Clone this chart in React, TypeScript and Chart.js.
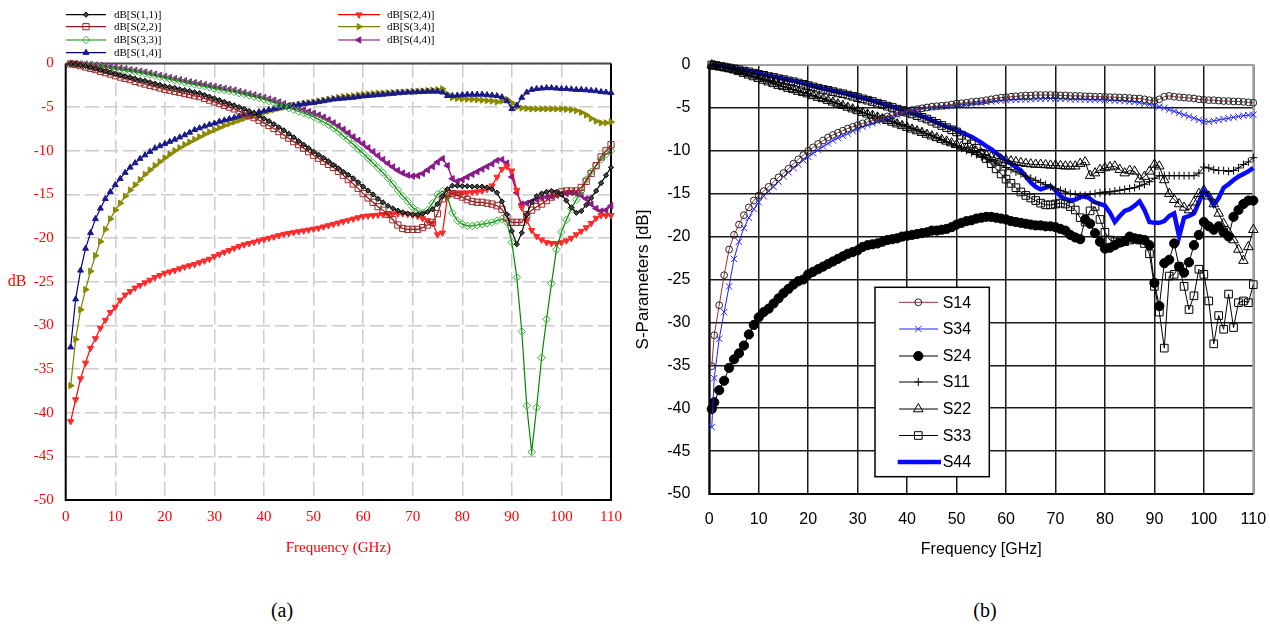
import React, { useEffect, useRef } from 'react';
import { Chart, registerables } from 'chart.js';

Chart.register(...registerables);

// ---------- (a) simulated data ----------
const freqA = [1,2,3,4,5,6,7,8,9,10,11,12,13,14,15,16,17,18,19,20,21,22,23,24,25,26,27,28,29,30,31,32,33,34,35,36,37,38,39,40,41,42,43,44,45,46,47,48,49,50,51,52,53,54,55,56,57,58,59,60,61,62,63,64,65,66,67,68,69,70,71,72,73,74,75,76,77,78,79,80,81,82,83,84,85,86,87,88,89,90,91,92,93,94,95,96,97,98,99,100,101,102,103,104,105,106,107,108,109,110];

const aS11 = [-0.05,-0.1,-0.2,-0.3,-0.45,-0.6,-0.75,-0.9,-1.05,-1.2,
-1.35,-1.5,-1.6,-1.75,-1.9,-2.0,-2.15,-2.3,-2.45,-2.6,
-2.7,-2.8,-2.95,-3.05,-3.15,-3.3,-3.4,-3.6,-3.8,-4.0,
-4.2,-4.4,-4.6,-4.8,-5.0,-5.2,-5.45,-5.7,-6.0,-6.3,
-6.6,-6.95,-7.3,-7.65,-8.05,-8.45,-8.9,-9.3,-9.7,-10.1,
-10.45,-10.8,-11.2,-11.6,-12.0,-12.4,-12.75,-13.15,-13.6,-14.1,
-14.55,-15.0,-15.5,-15.9,-16.3,-16.6,-16.85,-17.05,-17.2,-17.3,
-17.3,-17.2,-17.0,-16.7,-16.1,-15.2,-14.4,-14.0,-14.0,-14.05,
-14.05,-14.1,-14.1,-14.1,-14.2,-14.4,-14.8,-15.8,-17.3,-19.2,
-20.7,-19.4,-17.3,-15.9,-15.2,-14.9,-14.7,-14.6,-14.7,-15.0,
-15.7,-16.5,-17.1,-16.9,-16.2,-15.4,-14.6,-13.7,-12.8,-11.9];

const aS22 = [-0.05,-0.12,-0.25,-0.4,-0.55,-0.7,-0.9,-1.05,-1.2,-1.4,
-1.55,-1.7,-1.85,-2.05,-2.2,-2.35,-2.5,-2.65,-2.8,-2.95,
-3.05,-3.2,-3.3,-3.45,-3.55,-3.7,-3.8,-4.0,-4.2,-4.4,
-4.6,-4.8,-5.0,-5.2,-5.45,-5.7,-5.95,-6.2,-6.5,-6.8,
-7.1,-7.45,-7.8,-8.2,-8.55,-8.95,-9.3,-9.7,-10.1,-10.5,
-10.85,-11.2,-11.55,-11.9,-12.35,-12.8,-13.3,-13.8,-14.3,-14.9,
-15.4,-15.9,-16.4,-16.8,-17.3,-17.9,-18.5,-18.9,-19.0,-19.0,
-19.0,-18.8,-18.5,-18.2,-17.2,-15.5,-14.8,-14.9,-15.1,-15.3,
-15.6,-15.8,-15.9,-15.9,-16.0,-16.1,-16.3,-16.7,-17.6,-18.2,
-18.2,-18.2,-17.3,-16.8,-16.4,-16.1,-15.7,-15.3,-14.9,-14.7,
-14.6,-14.6,-14.6,-14.2,-13.5,-12.6,-11.7,-10.7,-10.0,-9.3];

const aS33 = [0,-0.03,-0.07,-0.12,-0.2,-0.28,-0.35,-0.43,-0.52,-0.6,
-0.7,-0.78,-0.87,-0.95,-1.05,-1.15,-1.27,-1.4,-1.52,-1.65,
-1.77,-1.9,-2.0,-2.15,-2.28,-2.4,-2.5,-2.6,-2.72,-2.85,
-2.95,-3.05,-3.15,-3.25,-3.4,-3.5,-3.65,-3.8,-3.95,-4.1,
-4.3,-4.5,-4.7,-4.9,-5.1,-5.3,-5.5,-5.7,-5.9,-6.1,
-6.4,-6.7,-7.0,-7.4,-7.8,-8.3,-8.75,-9.25,-9.8,-10.3,
-10.85,-11.4,-11.95,-12.5,-13.15,-13.8,-14.5,-15.2,-15.8,-16.5,
-16.9,-17.1,-16.8,-16.0,-15.0,-14.6,-15.3,-17.1,-18.0,-18.4,
-18.6,-18.6,-18.5,-18.4,-18.3,-18.2,-18.0,-17.8,-18.2,-20.5,
-24.5,-30.7,-39.2,-44.5,-39.4,-33.7,-29.3,-25.2,-21.3,-19.3,
-17.9,-16.6,-15.6,-14.6,-13.3,-12.4,-11.7,-11.0,-10.4,-10.0];

const aS14 = [-32.5,-27.0,-23.7,-21.2,-19.4,-17.8,-16.6,-15.5,-14.7,-13.9,
-13.2,-12.5,-11.9,-11.4,-10.9,-10.5,-10.1,-9.7,-9.45,-9.2,
-8.95,-8.7,-8.45,-8.2,-7.9,-7.6,-7.4,-7.2,-7.0,-6.85,
-6.65,-6.5,-6.35,-6.2,-6.05,-5.9,-5.8,-5.7,-5.55,-5.45,
-5.3,-5.2,-5.1,-5.0,-4.9,-4.8,-4.7,-4.6,-4.55,-4.5,
-4.4,-4.3,-4.2,-4.1,-4.05,-4.0,-3.95,-3.9,-3.82,-3.75,
-3.7,-3.65,-3.6,-3.55,-3.5,-3.45,-3.38,-3.33,-3.3,-3.28,
-3.25,-3.23,-3.2,-3.2,-3.2,-3.3,-3.7,-3.7,-3.65,-3.6,
-3.55,-3.55,-3.55,-3.55,-3.6,-3.65,-3.7,-3.85,-4.3,-5.2,
-4.8,-3.9,-3.3,-3.0,-2.9,-2.85,-2.8,-2.8,-2.85,-2.9,
-2.9,-2.95,-3.0,-3.0,-3.05,-3.1,-3.15,-3.25,-3.3,-3.35];

const aS24 = [-41.0,-38.5,-36.1,-34.3,-32.6,-31.5,-30.3,-29.4,-28.5,-27.9,
-27.1,-26.5,-26.1,-25.7,-25.4,-25.1,-24.8,-24.5,-24.25,-24.0,
-23.85,-23.7,-23.5,-23.3,-23.15,-23.0,-22.8,-22.6,-22.4,-22.1,
-21.85,-21.6,-21.4,-21.15,-20.95,-20.75,-20.6,-20.45,-20.3,-20.15,
-20.0,-19.85,-19.7,-19.55,-19.45,-19.35,-19.25,-19.15,-19.05,-18.95,
-18.85,-18.7,-18.55,-18.4,-18.25,-18.1,-17.95,-17.8,-17.65,-17.5,
-17.45,-17.4,-17.35,-17.3,-17.25,-17.2,-17.2,-17.2,-17.25,-17.35,
-17.5,-17.75,-18.0,-18.3,-19.6,-19.4,-15.3,-14.8,-14.8,-14.8,
-14.8,-14.75,-14.7,-14.6,-14.4,-14.0,-13.0,-12.1,-11.8,-12.3,
-14.5,-16.5,-18.0,-19.1,-19.8,-20.2,-20.5,-20.6,-20.6,-20.5,
-20.3,-20.0,-19.6,-19.2,-18.8,-18.3,-17.7,-17.4,-17.4,-17.4];

const aS34 = [-36.9,-31.6,-28.2,-25.9,-23.8,-22.0,-20.4,-19.0,-17.8,-16.8,
-16.0,-15.2,-14.5,-13.9,-13.3,-12.7,-12.2,-11.7,-11.25,-10.8,
-10.4,-10.0,-9.65,-9.3,-9.0,-8.7,-8.4,-8.1,-7.85,-7.6,
-7.35,-7.1,-6.9,-6.7,-6.5,-6.3,-6.1,-5.9,-5.75,-5.6,
-5.45,-5.3,-5.15,-5.0,-4.9,-4.8,-4.7,-4.6,-4.5,-4.4,
-4.3,-4.2,-4.1,-4.0,-3.9,-3.8,-3.75,-3.7,-3.6,-3.55,
-3.5,-3.45,-3.4,-3.38,-3.35,-3.32,-3.3,-3.28,-3.25,-3.22,
-3.2,-3.15,-3.1,-3.05,-3.0,-2.9,-3.5,-3.9,-4.0,-4.05,
-4.1,-4.1,-4.15,-4.2,-4.25,-4.3,-4.4,-4.3,-4.1,-4.5,
-5.0,-5.1,-5.15,-5.2,-5.2,-5.2,-5.2,-5.2,-5.2,-5.2,
-5.25,-5.3,-5.4,-5.6,-5.9,-6.3,-6.6,-6.8,-6.8,-6.7];

const aS44 = [0,0,-0.05,-0.08,-0.12,-0.17,-0.22,-0.28,-0.36,-0.44,
-0.52,-0.6,-0.7,-0.78,-0.88,-0.98,-1.1,-1.22,-1.35,-1.48,
-1.6,-1.72,-1.85,-1.97,-2.1,-2.2,-2.3,-2.42,-2.53,-2.64,
-2.75,-2.85,-2.95,-3.05,-3.2,-3.33,-3.47,-3.6,-3.75,-3.9,
-4.05,-4.2,-4.4,-4.6,-4.8,-5.0,-5.1,-5.3,-5.5,-5.7,
-5.9,-6.15,-6.45,-6.8,-7.15,-7.55,-7.95,-8.4,-8.8,-9.2,
-9.65,-10.1,-10.55,-11.0,-11.45,-11.85,-12.25,-12.55,-12.8,-12.9,
-12.85,-12.6,-12.2,-11.8,-11.3,-10.9,-11.7,-13.2,-13.5,-13.3,
-13.0,-12.7,-12.4,-12.1,-11.8,-11.5,-11.1,-11.0,-11.4,-13.0,
-14.8,-16.1,-16.0,-15.8,-15.6,-15.4,-15.3,-15.2,-15.1,-15.0,
-14.9,-14.8,-14.9,-15.1,-15.5,-16.1,-16.6,-16.9,-16.8,-16.3];

// ---------- (b) measured data ----------
const freqB = [0.5,1,2,3,4,5,6,7,8,9,10,11,12,13,14,15,16,17,18,19,20,21,22,23,24,25,26,27,28,29,30,31,32,33,34,35,36,37,38,39,40,41,42,43,44,45,46,47,48,49,50,51,52,53,54,55,56,57,58,59,60,61,62,63,64,65,66,67,68,69,70,71,72,73,74,75,76,77,78,79,80,81,82,83,84,85,86,87,88,89,90,91,92,93,94,95,96,97,98,99,100,101,102,103,104,105,106,107,108,109,110];

const bS14 = [-35.1,
-31.5,-28.0,-24.5,-21.5,-19.8,-18.6,-17.5,-16.6,-15.8,-15.2,
-14.7,-14.2,-13.6,-13.1,-12.6,-12.1,-11.5,-11.0,-10.5,-10.0,
-9.6,-9.2,-8.8,-8.45,-8.15,-7.9,-7.65,-7.4,-7.2,-7.0,
-6.8,-6.65,-6.5,-6.35,-6.2,-6.0,-5.85,-5.65,-5.5,-5.35,
-5.25,-5.15,-5.05,-4.95,-4.85,-4.8,-4.75,-4.7,-4.6,-4.5,
-4.45,-4.4,-4.3,-4.25,-4.2,-4.1,-4.0,-3.9,-3.8,-3.75,
-3.7,-3.65,-3.6,-3.55,-3.55,-3.5,-3.5,-3.5,-3.5,-3.5,
-3.55,-3.55,-3.6,-3.6,-3.6,-3.65,-3.65,-3.7,-3.7,-3.7,
-3.75,-3.75,-3.8,-3.8,-3.85,-3.9,-3.9,-4.0,-4.1,-4.2,
-4.0,-3.7,-3.6,-3.7,-3.75,-3.8,-3.85,-3.9,-4.0,-4.05,
-4.1,-4.1,-4.15,-4.2,-4.2,-4.25,-4.25,-4.3,-4.35,-4.4];

const bS34 = [-42.2,
-36.5,-31.9,-28.8,-25.8,-22.6,-20.6,-19.0,-17.8,-16.8,-16.0,
-15.3,-14.7,-14.2,-13.6,-13.0,-12.5,-12.0,-11.6,-11.1,-10.7,
-10.3,-9.9,-9.5,-9.15,-8.8,-8.5,-8.25,-8.0,-7.7,-7.45,
-7.2,-7.0,-6.8,-6.6,-6.4,-6.2,-6.0,-5.8,-5.6,-5.45,
-5.3,-5.2,-5.1,-5.0,-4.95,-4.9,-4.85,-4.8,-4.75,-4.7,
-4.6,-4.55,-4.5,-4.45,-4.4,-4.3,-4.25,-4.2,-4.15,-4.1,
-4.05,-4.05,-4.0,-4.0,-4.0,-3.95,-3.95,-3.9,-3.9,-3.9,
-3.95,-3.95,-4.0,-4.0,-4.0,-4.0,-4.05,-4.05,-4.05,-4.1,
-4.1,-4.15,-4.15,-4.2,-4.25,-4.3,-4.4,-4.5,-4.6,-4.7,
-4.85,-5.0,-5.2,-5.4,-5.6,-5.8,-6.0,-6.2,-6.4,-6.6,
-6.6,-6.5,-6.4,-6.3,-6.2,-6.1,-6.0,-5.9,-5.85,-5.8];

const bS24 = [-40.1,
-39.3,-37.9,-36.8,-35.3,-34.3,-33.6,-32.7,-31.4,-30.3,-29.4,
-28.8,-28.4,-27.8,-27.2,-26.6,-26.1,-25.6,-25.2,-25.0,-24.4,
-24.1,-23.8,-23.5,-23.2,-22.9,-22.6,-22.3,-22.0,-21.8,-21.6,
-21.2,-21.0,-20.9,-20.8,-20.6,-20.4,-20.3,-20.2,-20.0,-19.9,
-19.8,-19.7,-19.6,-19.5,-19.3,-19.3,-19.2,-19.1,-18.9,-18.6,
-18.4,-18.2,-18.1,-17.9,-17.8,-17.7,-17.7,-17.8,-17.9,-18.0,
-18.2,-18.3,-18.4,-18.5,-18.6,-18.7,-18.7,-18.8,-18.8,-18.9,
-19.1,-19.3,-19.8,-20.1,-20.3,-18.0,-18.5,-19.6,-20.6,-21.4,
-21.3,-21.0,-20.7,-20.5,-20.0,-20.2,-20.3,-20.4,-21.0,-25.4,
-28.1,-23.1,-22.7,-20.8,-23.5,-24.2,-23.0,-21.0,-19.8,-18.3,
-18.8,-19.2,-18.8,-19.5,-20.0,-17.7,-16.9,-16.2,-15.8,-15.8];

const bS11 = [0,
-0.1,-0.2,-0.3,-0.45,-0.6,-0.75,-0.95,-1.15,-1.35,-1.55,
-1.75,-1.95,-2.1,-2.3,-2.5,-2.65,-2.85,-3.0,-3.2,-3.35,
-3.55,-3.75,-3.9,-4.1,-4.3,-4.5,-4.7,-4.9,-5.1,-5.3,
-5.5,-5.7,-5.85,-6.0,-6.2,-6.4,-6.55,-6.75,-6.95,-7.15,
-7.35,-7.55,-7.75,-8.0,-8.2,-8.45,-8.7,-8.95,-9.2,-9.45,
-9.7,-9.95,-10.2,-10.45,-10.7,-10.95,-11.2,-11.45,-11.7,-11.95,
-12.2,-12.45,-12.7,-12.95,-13.2,-13.45,-13.7,-13.95,-14.2,-14.4,
-14.6,-14.8,-15.0,-15.1,-15.2,-15.2,-15.1,-15.0,-14.9,-14.8,
-14.8,-14.7,-14.6,-14.5,-14.4,-14.3,-14.1,-13.9,-13.6,-13.2,
-12.9,-12.9,-12.9,-12.9,-12.9,-12.9,-12.9,-12.9,-12.6,-11.9,
-12.0,-12.2,-12.3,-12.3,-12.4,-12.3,-12.0,-11.6,-11.3,-10.8];

const bS22 = [0,
-0.1,-0.2,-0.3,-0.45,-0.6,-0.8,-1.0,-1.2,-1.4,-1.6,
-1.8,-2.0,-2.2,-2.4,-2.55,-2.75,-2.9,-3.1,-3.25,-3.4,
-3.6,-3.8,-3.95,-4.15,-4.35,-4.55,-4.75,-4.95,-5.15,-5.35,
-5.55,-5.75,-5.9,-6.1,-6.3,-6.5,-6.7,-6.9,-7.1,-7.3,
-7.5,-7.7,-7.9,-8.1,-8.3,-8.5,-8.7,-8.9,-9.1,-9.3,
-9.5,-9.7,-9.9,-10.1,-10.3,-10.5,-10.7,-10.85,-11.0,-11.1,
-11.2,-11.3,-11.4,-11.5,-11.55,-11.6,-11.6,-11.65,-11.7,-11.7,
-11.75,-11.8,-11.8,-11.8,-11.5,-11.3,-12.9,-12.6,-12.2,-12.0,
-11.9,-11.8,-12.2,-12.6,-12.3,-12.4,-13.3,-13.0,-12.4,-11.6,
-11.8,-13.4,-15.0,-15.7,-16.2,-16.6,-16.9,-16.0,-15.0,-14.6,
-15.3,-16.2,-17.3,-18.5,-19.5,-20.4,-21.5,-22.8,-21.2,-19.2];

const bS33 = [0,
-0.05,-0.15,-0.25,-0.35,-0.45,-0.55,-0.7,-0.8,-0.95,-1.1,
-1.2,-1.35,-1.45,-1.6,-1.7,-1.85,-1.95,-2.1,-2.25,-2.4,
-2.55,-2.7,-2.85,-2.95,-3.1,-3.25,-3.35,-3.5,-3.65,-3.8,
-3.95,-4.1,-4.25,-4.45,-4.6,-4.8,-4.95,-5.15,-5.3,-5.5,
-5.7,-5.9,-6.1,-6.3,-6.55,-6.8,-7.05,-7.3,-7.55,-7.8,
-8.2,-8.7,-9.2,-9.7,-10.3,-10.9,-11.5,-12.1,-12.7,-13.3,
-13.8,-14.3,-14.8,-15.2,-15.5,-15.8,-16.1,-16.3,-16.3,-16.2,
-16.1,-16.2,-16.5,-16.9,-17.8,-18.3,-17.0,-16.5,-18.0,-19.5,
-20.4,-20.6,-20.7,-20.6,-20.4,-20.3,-20.4,-20.8,-22.0,-25.8,
-28.8,-33.0,-24.6,-24.4,-23.5,-25.8,-28.5,-26.9,-23.8,-24.4,
-27.5,-32.5,-29.2,-30.8,-26.7,-30.6,-27.7,-27.5,-27.7,-25.6];

const bS44 = [0,
-0.05,-0.1,-0.2,-0.3,-0.4,-0.5,-0.6,-0.7,-0.85,-1.0,
-1.1,-1.25,-1.35,-1.5,-1.6,-1.75,-1.85,-2.0,-2.15,-2.3,
-2.45,-2.6,-2.75,-2.85,-3.0,-3.15,-3.25,-3.4,-3.55,-3.7,
-3.85,-4.0,-4.15,-4.35,-4.5,-4.7,-4.85,-5.05,-5.2,-5.4,
-5.6,-5.8,-6.0,-6.2,-6.45,-6.7,-6.95,-7.2,-7.4,-7.6,
-7.85,-8.1,-8.35,-8.7,-9.05,-9.45,-9.8,-10.25,-10.7,-11.1,
-11.5,-11.9,-12.3,-13.0,-13.7,-14.2,-14.5,-14.3,-14.1,-14.6,
-15.3,-15.6,-15.8,-15.7,-15.4,-15.3,-15.6,-16.0,-16.2,-16.4,
-17.2,-18.3,-17.6,-17.0,-16.8,-16.4,-15.9,-16.9,-18.3,-18.4,
-18.4,-18.2,-17.6,-17.3,-20.0,-17.8,-17.6,-17.3,-16.0,-14.6,
-15.3,-16.3,-15.5,-14.3,-13.9,-13.4,-13.0,-12.7,-12.4,-12.0];

// ---------- helpers ----------
type Mk = { style: string; r: number; rot?: number; fill: string; stroke: string };

function drawMarker(ctx: CanvasRenderingContext2D, m: Mk, x: number, y: number) {
  const r = m.r;
  ctx.save();
  ctx.beginPath();
  ctx.lineWidth = 1;
  ctx.strokeStyle = m.stroke;
  ctx.fillStyle = m.fill;
  if (m.style === 'circle') {
    ctx.arc(x, y, r, 0, Math.PI * 2);
  } else if (m.style === 'rect') {
    const s = r * Math.SQRT1_2;
    ctx.rect(x - s, y - s, 2 * s, 2 * s);
  } else if (m.style === 'rectRot') {
    ctx.moveTo(x, y - r); ctx.lineTo(x + r, y); ctx.lineTo(x, y + r); ctx.lineTo(x - r, y); ctx.closePath();
  } else if (m.style === 'triangle') {
    let a = ((m.rot || 0) * Math.PI) / 180;
    ctx.moveTo(x + Math.sin(a) * r, y - Math.cos(a) * r);
    a += (2 * Math.PI) / 3;
    ctx.lineTo(x + Math.sin(a) * r, y - Math.cos(a) * r);
    a += (2 * Math.PI) / 3;
    ctx.lineTo(x + Math.sin(a) * r, y - Math.cos(a) * r);
    ctx.closePath();
  } else if (m.style === 'cross') {
    ctx.moveTo(x - r, y); ctx.lineTo(x + r, y); ctx.moveTo(x, y - r); ctx.lineTo(x, y + r);
  } else if (m.style === 'crossRot') {
    const s = r * Math.SQRT1_2;
    ctx.moveTo(x - s, y - s); ctx.lineTo(x + s, y + s); ctx.moveTo(x - s, y + s); ctx.lineTo(x + s, y - s);
  }
  if (m.fill !== 'none' && m.style !== 'cross' && m.style !== 'crossRot') ctx.fill();
  ctx.stroke();
  ctx.restore();
}

type Series = { label: string; vals: number[]; color: string; width: number; mk: Mk | null; order?: number };

const seriesA: Series[] = [
  { label: 'dB[S(1,1)]', vals: aS11, color: '#000000', width: 1.2, mk: { style: 'rectRot', r: 2.6, fill: '#444444', stroke: '#000000' } },
  { label: 'dB[S(2,2)]', vals: aS22, color: '#8c1a1a', width: 1.2, mk: { style: 'rect', r: 4.4, fill: 'none', stroke: '#9a2a2a' } },
  { label: 'dB[S(3,3)]', vals: aS33, color: '#008a00', width: 1.2, mk: { style: 'rectRot', r: 3.8, fill: 'none', stroke: '#3cb43c' } },
  { label: 'dB[S(1,4)]', vals: aS14, color: '#000080', width: 1.2, mk: { style: 'triangle', r: 3.4, rot: 0, fill: '#1a1a8c', stroke: '#1a1a8c' } },
  { label: 'dB[S(2,4)]', vals: aS24, color: '#ff0000', width: 1.2, mk: { style: 'triangle', r: 3.6, rot: 180, fill: '#ff2a2a', stroke: '#ff2a2a' } },
  { label: 'dB[S(3,4)]', vals: aS34, color: '#808000', width: 1.2, mk: { style: 'triangle', r: 3.6, rot: 90, fill: '#8a8a00', stroke: '#8a8a00' } },
  { label: 'dB[S(4,4)]', vals: aS44, color: '#800080', width: 1.2, mk: { style: 'triangle', r: 3.6, rot: 270, fill: '#8a1a8a', stroke: '#8a1a8a' } },
];

const seriesB: Series[] = [
  { label: 'S14', vals: bS14, color: '#a03030', width: 1, mk: { style: 'circle', r: 3.4, fill: 'none', stroke: '#222222' } },
  { label: 'S34', vals: bS34, color: '#2020ff', width: 1, mk: { style: 'crossRot', r: 4.5, fill: 'none', stroke: '#2a2aff' } },
  { label: 'S24', vals: bS24, color: '#000000', width: 1, mk: { style: 'circle', r: 4.6, fill: '#000000', stroke: '#000000' } },
  { label: 'S11', vals: bS11, color: '#000000', width: 1, mk: { style: 'cross', r: 4, fill: 'none', stroke: '#000000' } },
  { label: 'S22', vals: bS22, color: '#000000', width: 1, mk: { style: 'triangle', r: 5.5, rot: 0, fill: 'none', stroke: '#000000' } },
  { label: 'S33', vals: bS33, color: '#000000', width: 1, mk: { style: 'rect', r: 5.4, fill: 'none', stroke: '#000000' } },
  { label: 'S44', vals: bS44, color: '#0a0aff', width: 4.5, mk: null, order: 10 },
];

function toDatasets(freq: number[], list: Series[]) {
  return list.map((s) => ({
    label: s.label,
    data: freq.map((f, i) => ({ x: f, y: s.vals[i] })),
    borderColor: s.color,
    borderWidth: s.width,
    pointStyle: s.mk ? (s.mk.style as any) : false,
    pointRadius: s.mk ? s.mk.r : 0,
    pointRotation: s.mk ? s.mk.rot || 0 : 0,
    pointBackgroundColor: s.mk ? (s.mk.fill === 'none' ? 'rgba(0,0,0,0)' : s.mk.fill) : 'rgba(0,0,0,0)',
    pointBorderColor: s.mk ? s.mk.stroke : s.color,
    pointBorderWidth: 1,
    tension: 0,
    fill: false,
    clip: false as any,
    order: s.order || 0,
  }));
}

const SERIF = "'Liberation Serif', 'Times New Roman', serif";
const SANS = "'Liberation Sans', Arial, sans-serif";

const W_A = 625, H_A = 570;
const W_B = 645, H_B = 570;

const plotA = { left: 65.7, right: 611, top: 63.5, bottom: 500 };
const plotB = { left: 84.3, right: 628.3, top: 65, bottom: 494 };

const decorA = {
  id: 'decorA',
  beforeDatasetsDraw(chart: any) {
    const { ctx, chartArea: a } = chart;
    ctx.save();
    ctx.lineWidth = 2;
    ctx.strokeStyle = '#4a4a4a';
    ctx.beginPath(); ctx.moveTo(a.left, a.top); ctx.lineTo(a.right, a.top); ctx.stroke();
    ctx.strokeStyle = '#000000';
    ctx.beginPath(); ctx.moveTo(a.right, a.top); ctx.lineTo(a.right, a.bottom); ctx.lineTo(a.left, a.bottom); ctx.lineTo(a.left, a.top); ctx.stroke();
    ctx.restore();
  },
  afterDraw(chart: any) {
    const ctx: CanvasRenderingContext2D = chart.ctx;
    ctx.save();
    ctx.fillStyle = '#ff0000';
    ctx.font = `16px ${SERIF}`;
    ctx.textAlign = 'center';
    ctx.textBaseline = 'middle';
    ctx.fillText('dB', 17, 282);
    const rows = [14.7, 26.7, 40, 52.7];
    ctx.font = `11px ${SERIF}`;
    ctx.textAlign = 'left';
    seriesA.forEach((s, i) => {
      const col = i < 4 ? 0 : 1;
      const y = rows[col === 0 ? i : i - 4];
      const x0 = col === 0 ? 66 : 338;
      const x1 = col === 0 ? 106 : 380;
      const xm = col === 0 ? 86 : 359;
      const xt = col === 0 ? 114 : 387;
      ctx.strokeStyle = s.color;
      ctx.lineWidth = 1.2;
      ctx.beginPath(); ctx.moveTo(x0, y); ctx.lineTo(x1, y); ctx.stroke();
      if (s.mk) drawMarker(ctx, s.mk, xm, y);
      ctx.fillStyle = '#000000';
      ctx.fillText(s.label, xt, y + 0.5);
    });
    ctx.restore();
  },
};

const decorB = {
  id: 'decorB',
  beforeDatasetsDraw(chart: any) {
    const { ctx, chartArea: a } = chart;
    ctx.save();
    ctx.lineWidth = 2;
    ctx.strokeStyle = '#a0a0a0';
    ctx.beginPath(); ctx.moveTo(a.left, a.top); ctx.lineTo(a.right, a.top); ctx.lineTo(a.right, a.bottom); ctx.stroke();
    ctx.strokeStyle = '#000000';
    ctx.beginPath(); ctx.moveTo(a.right, a.bottom); ctx.lineTo(a.left, a.bottom); ctx.lineTo(a.left, a.top); ctx.stroke();
    ctx.restore();
  },
  afterDraw(chart: any) {
    const ctx: CanvasRenderingContext2D = chart.ctx;
    ctx.save();
    const bx = 250, by = 287.3, bw = 114.3, bh = 189.4;
    ctx.fillStyle = '#ffffff';
    ctx.fillRect(bx, by, bw, bh);
    ctx.strokeStyle = '#000000';
    ctx.lineWidth = 1.5;
    ctx.strokeRect(bx, by, bw, bh);
    const rows = [302.3, 329, 356, 382, 409, 435.5, 462];
    ctx.font = `16px ${SANS}`;
    ctx.textAlign = 'left';
    ctx.textBaseline = 'middle';
    seriesB.forEach((s, i) => {
      const y = rows[i];
      ctx.strokeStyle = s.color;
      ctx.lineWidth = s.width;
      ctx.beginPath();
      if (s.mk) { ctx.moveTo(274, y); ctx.lineTo(313, y); } else { ctx.moveTo(272.7, y); ctx.lineTo(316, y); }
      ctx.stroke();
      if (s.mk) drawMarker(ctx, s.mk, 293.3, y);
      ctx.fillStyle = '#000000';
      ctx.fillText(s.label, 317.7, y + 1);
    });
    ctx.restore();
  },
};

function ChartA() {
  const ref = useRef<HTMLCanvasElement | null>(null);
  useEffect(() => {
    if (!ref.current) return;
    const chart = new Chart(ref.current, {
      type: 'line',
      data: { datasets: toDatasets(freqA, seriesA) as any },
      options: {
        animation: false,
        responsive: false,
        events: [],
        layout: { padding: { left: 0, top: plotA.top, right: W_A - plotA.right, bottom: 0 } },
        plugins: { legend: { display: false }, tooltip: { enabled: false } },
        scales: {
          x: {
            type: 'linear', min: 0, max: 110,
            ticks: { stepSize: 10, color: '#ff0000', font: { family: SERIF, size: 15 }, padding: 8, maxRotation: 0, autoSkip: false },
            grid: { color: '#cccccc', lineWidth: 1.5, drawTicks: false },
            border: { display: false, dash: [14, 5] },
            title: { display: true, text: 'Frequency (GHz)', color: '#ff0000', font: { family: SERIF, size: 15 }, padding: { top: 0, bottom: 13 } },
            afterFit: (s: any) => { s.height = H_A - plotA.bottom; s.paddingLeft = 0; s.paddingRight = 0; },
          },
          y: {
            type: 'linear', min: -50, max: 0,
            ticks: { stepSize: 5, color: '#ff0000', font: { family: SERIF, size: 15 }, padding: 12 },
            grid: { color: '#cccccc', lineWidth: 1.5, drawTicks: false },
            border: { display: false, dash: [14, 5] },
            afterFit: (s: any) => { s.width = plotA.left; s.paddingTop = 0; s.paddingBottom = 0; },
          },
        },
      } as any,
      plugins: [decorA],
    });
    return () => chart.destroy();
  }, []);
  return <canvas ref={ref} width={W_A} height={H_A} style={{ position: 'absolute', left: 0, top: 0, width: W_A, height: H_A }} />;
}

function ChartB() {
  const ref = useRef<HTMLCanvasElement | null>(null);
  useEffect(() => {
    if (!ref.current) return;
    const chart = new Chart(ref.current, {
      type: 'line',
      data: { datasets: toDatasets(freqB, seriesB) as any },
      options: {
        animation: false,
        responsive: false,
        events: [],
        layout: { padding: { left: 0, top: plotB.top, right: W_B - plotB.right, bottom: 0 } },
        plugins: { legend: { display: false }, tooltip: { enabled: false } },
        scales: {
          x: {
            type: 'linear', min: 0, max: 110,
            ticks: { stepSize: 10, color: '#000000', font: { family: SANS, size: 16 }, padding: 16, maxRotation: 0, autoSkip: false },
            grid: { color: '#1a1a1a', lineWidth: 1.5, drawTicks: false },
            border: { display: false },
            title: { display: true, text: 'Frequency [GHz]', color: '#000000', font: { family: SANS, size: 16 }, padding: { top: 0, bottom: 11 } },
            afterFit: (s: any) => { s.height = H_B - plotB.bottom; s.paddingLeft = 0; s.paddingRight = 0; },
          },
          y: {
            type: 'linear', min: -50, max: 0,
            ticks: { stepSize: 5, color: '#000000', font: { family: SANS, size: 16 }, padding: 19 },
            grid: { color: '#1a1a1a', lineWidth: 1.5, drawTicks: false },
            border: { display: false },
            title: { display: true, text: 'S-Parameters [dB]', color: '#000000', font: { family: SANS, size: 17 }, padding: { top: 8, bottom: 0 } },
            afterFit: (s: any) => { s.width = plotB.left; s.paddingTop = 0; s.paddingBottom = 0; },
          },
        },
      } as any,
      plugins: [decorB],
    });
    return () => chart.destroy();
  }, []);
  return <canvas ref={ref} width={W_B} height={H_B} style={{ position: 'absolute', left: W_A, top: 0, width: W_B, height: H_B }} />;
}

export default function App() {
  const cap: React.CSSProperties = {
    position: 'absolute', top: 596, width: 60, textAlign: 'center',
    fontFamily: SERIF, fontSize: 20, lineHeight: '28px', color: '#000',
  };
  return (
    <div style={{ position: 'fixed', left: 0, top: 0, width: 1270, height: 629, background: '#ffffff', overflow: 'hidden' }}>
      <ChartA />
      <ChartB />
      <div style={{ ...cap, left: 282 - 30 }}>(a)</div>
      <div style={{ ...cap, left: 985 - 30 }}>(b)</div>
    </div>
  );
}
